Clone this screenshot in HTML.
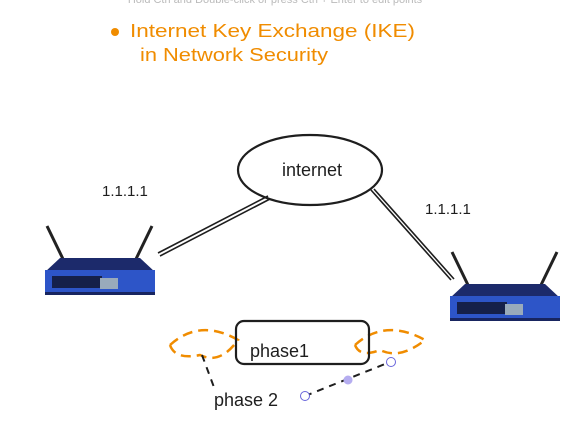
<!DOCTYPE html>
<html><head><style>
body{margin:0;background:#fff;width:588px;height:422px;overflow:hidden}
text{font-family:"Liberation Sans",sans-serif}
</style></head><body>
<svg width="588" height="422" viewBox="0 0 588 422">
<text x="275" y="3" font-size="11" fill="#bbb" text-anchor="middle">Hold Ctrl and Double-click or press Ctrl + Enter to edit points</text>
<circle cx="115" cy="32" r="4" fill="#f08c00"/>
<text x="130" y="37" font-size="18" fill="#f08c00" textLength="285" lengthAdjust="spacingAndGlyphs">Internet Key Exchange (IKE)</text>
<text x="140" y="61" font-size="18" fill="#f08c00" textLength="188" lengthAdjust="spacingAndGlyphs">in Network Security</text>

<ellipse cx="310" cy="170" rx="72" ry="35" fill="none" stroke="#1e1e1e" stroke-width="2.2"/>
<text x="312" y="176" font-size="18" fill="#1e1e1e" text-anchor="middle">internet</text>
<text x="102" y="196" font-size="15" fill="#1e1e1e">1.1.1.1</text>
<text x="425" y="214" font-size="15" fill="#1e1e1e">1.1.1.1</text>
<path d="M158 253 L268 196 M160 256 L270 199" stroke="#1e1e1e" stroke-width="1.6"/>
<path d="M371 190 L451 280 M374 189 L454 279" stroke="#1e1e1e" stroke-width="1.6"/>

<g id="r1">
<path d="M47 226 L63 259 M152 226 L136 259" stroke="#222" stroke-width="3"/>
<path d="M60 258 L140 258 L155 272 L45 272 Z" fill="#1c2a6b"/>
<rect x="45" y="270" width="110" height="23" fill="#2d55c8"/>
<rect x="52" y="276" width="50" height="12" fill="#15204a"/>
<rect x="100" y="278" width="18" height="11" fill="#9ab"/>
<rect x="45" y="292" width="110" height="3" fill="#182560"/>
</g>
<use href="#r1" transform="translate(405 26)"/>

<path d="M170 345 Q200 318 238 340 Q220 365 200 355 Q175 360 170 345" fill="none" stroke="#f08c00" stroke-width="2.5" stroke-dasharray="10 6"/>
<path d="M355 345 Q385 318 425 340 Q400 360 380 350 Q360 358 355 345" fill="none" stroke="#f08c00" stroke-width="2.5" stroke-dasharray="10 6"/>
<rect x="236" y="321" width="133" height="43" rx="8" fill="none" stroke="#1e1e1e" stroke-width="2.2"/>
<text x="250" y="357" font-size="18" fill="#1e1e1e">phase1</text>
<path d="M202 355 L215 390" stroke="#1e1e1e" stroke-width="2" stroke-dasharray="7 6"/>
<path d="M305 396 L390 362" stroke="#1e1e1e" stroke-width="2" stroke-dasharray="7 6"/>
<text x="214" y="406" font-size="18" fill="#1e1e1e">phase 2</text>
<circle cx="305" cy="396" r="4.5" fill="#fff" stroke="#6965db" stroke-width="1"/>
<circle cx="348" cy="380" r="4.5" fill="#b5adf0"/>
<circle cx="391" cy="362" r="4.5" fill="#fff" stroke="#6965db" stroke-width="1"/>
</svg>
</body></html>
